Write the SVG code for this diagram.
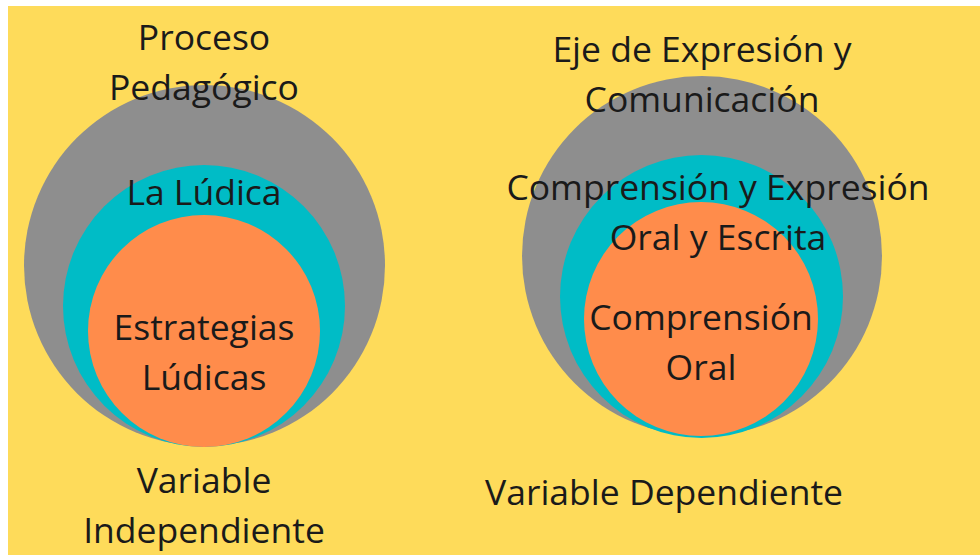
<svg xmlns="http://www.w3.org/2000/svg" width="980" height="555" viewBox="0 0 980 555">
<style>
text{font-family:"Open Sans","Noto Sans","DejaVu Sans",sans-serif;font-size:35.5px;fill:#1a1a1a;text-anchor:middle}
.g{fill:#8e8e8e}.c{fill:#00bcc6}.o{fill:#ff8c4b}
</style>
<rect width="980" height="555" fill="#ffffff"/>
<rect x="8" y="6" width="972" height="549" fill="#fedb5a"/>
<g id="left">
<g id="proceso"><circle class="g" cx="204.5" cy="265.5" r="180.5"/></g>
<g id="ludica"><circle class="c" cx="204" cy="306" r="141"/></g>
<g id="estrategias"><circle class="o" cx="204" cy="331" r="116"/></g>
<text x="204" y="50">Proceso</text>
<text x="204" y="100">Pedagógico</text>
<text x="204" y="205">La Lúdica</text>
<text x="204" y="340">Estrategias</text>
<text x="204" y="390">Lúdicas</text>
<text x="204" y="493">Variable</text>
<text x="204" y="543">Independiente</text>
</g>
<g id="right">
<g id="eje"><circle class="g" cx="702" cy="256" r="180"/></g>
<g id="comp-exp"><circle class="c" cx="701.5" cy="296.5" r="141.5"/></g>
<g id="comp-oral"><circle class="o" cx="701" cy="319" r="117"/></g>
<text x="702" y="62">Eje de Expresión y</text>
<text x="702" y="112">Comunicación</text>
<text x="718" y="200">Comprensión y Expresión</text>
<text x="718" y="250">Oral y Escrita</text>
<text x="701" y="330">Comprensión</text>
<text x="701" y="380">Oral</text>
<text x="664" y="505">Variable Dependiente</text>
</g>
</svg>
